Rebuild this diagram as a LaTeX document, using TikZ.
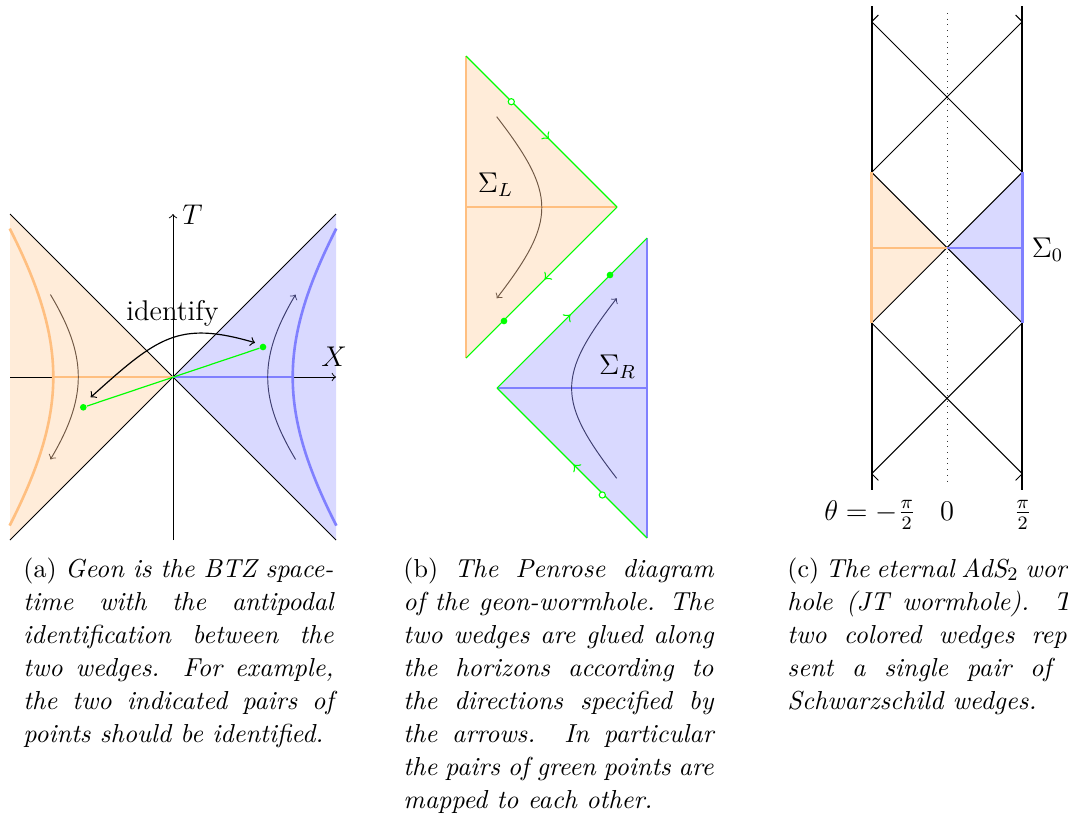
\documentclass[tikz,border=0pt]{standalone}
\usetikzlibrary{decorations.markings}
\definecolor{flowor}{RGB}{112,88,68}
\definecolor{flowbl}{RGB}{62,62,112}
\begin{document}
\begin{tikzpicture}[x=0.4209pt,y=-0.4209pt,
  lbl/.style={font=\fontsize{12}{14.4}\selectfont, inner sep=0pt},
  captext/.style={anchor=base west, text width=130.5pt, align=justify, inner sep=0pt, font=\fontsize{10.95}{13.9}\selectfont},
  cone/.style={black, line width=0.4pt},
  axis/.style={black, line width=0.4pt, ->},
  oline/.style={orange!50, line width=1.1pt},
  bline/.style={blue!50, line width=1.1pt},
  ofill/.style={fill=orange!15},
  bfill/.style={fill=blue!15},
  flowo/.style={draw=flowor, line width=0.4pt, ->},
  flowb/.style={draw=flowbl, line width=0.4pt, ->},
  gdot/.style={circle, fill=green, inner sep=0pt, minimum size=2.8pt},
  hdot/.style={circle, draw=green, fill=white, inner sep=0pt, minimum size=2.6pt, line width=0.45pt},
  horizon/.style={green, line width=0.45pt},
  harrow/.style={postaction={decorate,decoration={markings,mark=at position #1 with {\arrow[scale=1.25]{>}}}}},
  bdry/.style={black, line width=0.9pt},
  obdry/.style={orange!50, line width=1.1pt},
  bbdry/.style={blue!50, line width=1.1pt},
  idarrow/.style={<->, black, line width=0.5pt},
  centerline/.style={black!80, dotted, line width=0.4pt}
]
\useasboundingbox (0,0) rectangle (1068,832);

% ---------------- panel (a)
\coordinate (O) at (173,377);
\coordinate (UL) at (10,214);
\coordinate (LL) at (10,540);
\coordinate (UR) at (336,214);
\coordinate (LR) at (336,540);
\fill[ofill] (O) -- (UL) -- (LL) -- cycle;
\fill[bfill] (O) -- (UR) -- (LR) -- cycle;
\coordinate (Tb) at (173,540);
\coordinate (Tt) at (173,214);
\coordinate (Xa) at (10,377);
\coordinate (Xb) at (336,377);
\draw[axis] (Tb) -- (Tt);
\draw[axis] (Xa) -- (Xb);
\draw[cone] (UL) -- (O) -- (LR);
\draw[cone] (LL) -- (O) -- (UR);
\draw[oline] plot[domain=-0.83:0.83, samples=41, smooth, variable=\s] ({173-119.7*cosh(\s)},{377-160*sinh(\s)});
\draw[bline] plot[domain=-0.83:0.83, samples=41, smooth, variable=\s] ({173+119.7*cosh(\s)},{377-160*sinh(\s)});
\coordinate (HL) at (53.3,377);
\coordinate (HR) at (292.7,377);
\draw[oline] (HL) -- (O);
\draw[bline] (O) -- (HR);
\draw[flowo] plot[domain=-0.75:0.75, samples=31, smooth, variable=\s] ({173-94.7*cosh(\s)},{377+100.3*sinh(\s)});
\draw[flowb] plot[domain=-0.75:0.75, samples=31, smooth, variable=\s] ({173+94.7*cosh(\s)},{377-100.3*sinh(\s)});
\node[gdot] (dl) at (83.3,407.3) {};
\node[gdot] (dr) at (263,347) {};
\draw[green, line width=0.5pt] (dl) -- (dr);
\coordinate (ia) at (90.7,397.3);
\coordinate (ib) at (255,342.7);
\draw[idarrow] (ia) .. controls (157.6,337.1) and (178.2,320.3) .. (ib);
\node[lbl, anchor=west] (Tlab) at (182,215) {$T$};
\node[lbl] (Xlab) at (334,357) {$X$};
\node[lbl, anchor=base] (idlab) at (172.5,320) {identify};

% ---------------- panel (b)
\coordinate (LT) at (466,56);
\coordinate (LA) at (617,207);
\coordinate (LB) at (466,358);
\coordinate (LM) at (466,207);
\fill[ofill] (LT) -- (LA) -- (LB) -- cycle;
\draw[oline] (LT) -- (LB);
\draw[oline] (LM) -- (LA);
\draw[horizon, harrow=0.55] (LT) -- (LA);
\draw[horizon, harrow=0.48] (LA) -- (LB);
\coordinate (fa1) at (496.7,116.7);
\coordinate (fa2) at (496.7,298.3);
\draw[flowo] (fa1) .. controls (556.7,194.4) and (556.7,220.6) .. (fa2);
\node[hdot] (hl) at (511.3,101.7) {};
\node[gdot] (gl) at (504,321) {};
\node[lbl] (SL) at (495.5,185) {$\Sigma_L$};

\coordinate (RA) at (497,388);
\coordinate (RT) at (647,238);
\coordinate (RB) at (647,538);
\coordinate (RM) at (647,388);
\fill[bfill] (RA) -- (RT) -- (RB) -- cycle;
\draw[bline] (RT) -- (RB);
\draw[bline] (RA) -- (RM);
\draw[horizon, harrow=0.49] (RA) -- (RT);
\draw[horizon, harrow=0.49] (RB) -- (RA);
\coordinate (fb1) at (616.7,478.3);
\coordinate (fb2) at (616.7,298.3);
\draw[flowb] (fb1) .. controls (556.7,400.6) and (556.7,376) .. (fb2);
\node[gdot] (gr) at (610,275) {};
\node[hdot] (hr) at (602.3,495) {};
\node[lbl] (SR) at (617.5,366.5) {$\Sigma_R$};

% ---------------- panel (c)
\coordinate (cL0) at (871.7,21.7);
\coordinate (cL1) at (871.7,172.3);
\coordinate (cL2) at (871.7,323);
\coordinate (cL3) at (871.7,473.7);
\coordinate (cR0) at (1022.3,21.7);
\coordinate (cR1) at (1022.3,172.3);
\coordinate (cR2) at (1022.3,323);
\coordinate (cR3) at (1022.3,473.7);
\coordinate (cM) at (947,248);
\coordinate (cLM) at (871.7,248);
\coordinate (cRM) at (1022.3,248);
\coordinate (cLt) at (871.7,6);
\coordinate (cLb) at (871.7,490);
\coordinate (cRt) at (1022.3,6);
\coordinate (cRb) at (1022.3,490);
\coordinate (cMt) at (947,13);
\coordinate (cMb) at (947,481);
\coordinate (sL0) at (878.4,15);
\coordinate (sR0) at (1015.6,15);
\coordinate (sL3) at (878.4,480.4);
\coordinate (sR3) at (1015.6,480.4);
\fill[ofill] (cL1) -- (cM) -- (cL2) -- cycle;
\fill[bfill] (cR1) -- (cM) -- (cR2) -- cycle;
\draw[centerline] (cMt) -- (cMb);
\draw[cone] (cL0) -- (cR1) -- (cL2) -- (cR3);
\draw[cone] (cR0) -- (cL1) -- (cR2) -- (cL3);
\draw[cone] (cL0) -- (sL0);
\draw[cone] (cR0) -- (sR0);
\draw[cone] (cL3) -- (sL3);
\draw[cone] (cR3) -- (sR3);
\draw[oline] (cLM) -- (cM);
\draw[bline] (cM) -- (cRM);
\draw[bdry] (cLt) -- (cL1);
\draw[obdry] (cL1) -- (cL2);
\draw[bdry] (cL2) -- (cLb);
\draw[bdry] (cRt) -- (cR1);
\draw[bbdry] (cR1) -- (cR2);
\draw[bdry] (cR2) -- (cRb);
\node[lbl] (S0) at (1047.5,249.5) {$\Sigma_0$};
\node[lbl, anchor=base] (th1) at (870,520) {$\theta=-\frac{\pi}{2}$};
\node[lbl, anchor=base] (th0) at (947,520) {$0$};
\node[lbl, anchor=base] (th2) at (1022.7,520) {$\frac{\pi}{2}$};

% ---------------- captions
\node[captext] (capa) at (23,577) {(a) \textit{Geon is the BTZ space-\linebreak time with the antipodal\linebreak identification between the\linebreak two wedges. For example,\linebreak the two indicated pairs of\linebreak points should be identified.}};
\node[captext] (capb) at (403,577) {(b) \textit{The Penrose diagram\linebreak of the geon-wormhole. The\linebreak two wedges are glued along\linebreak the horizons according to\linebreak the directions specified by\linebreak the arrows. In particular\linebreak the pairs of green points are\linebreak mapped to each other.}};
\node[captext] (capc) at (787,577) {(c) \textit{The eternal AdS$_2$ worm-\linebreak hole (JT wormhole). The\linebreak two colored wedges repre-\linebreak sent a single pair of \rule{11.5pt}{0pt}\linebreak Schwarzschild wedges.}};
\end{tikzpicture}
\end{document}
